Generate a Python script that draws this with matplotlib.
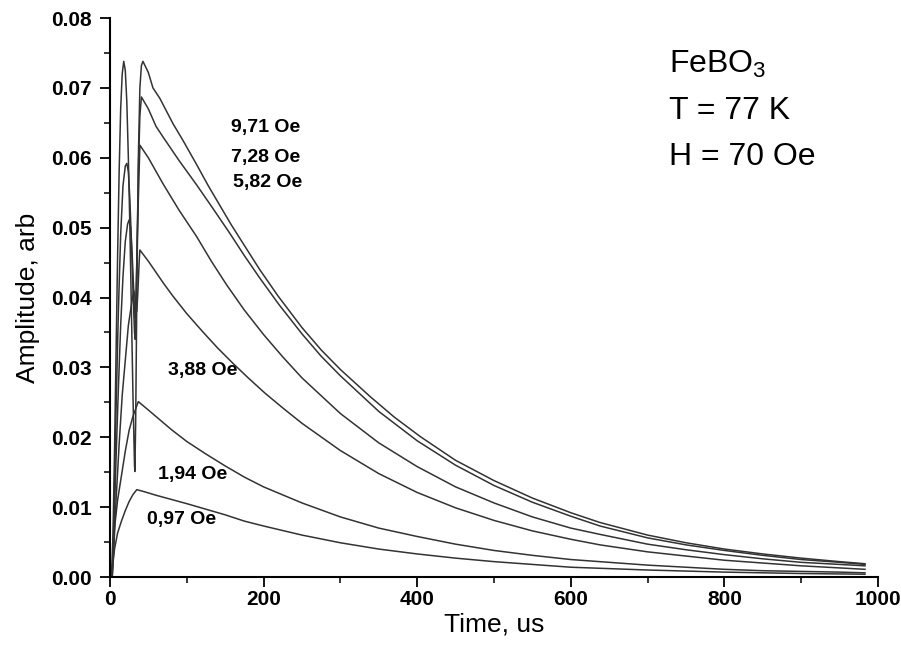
import matplotlib
matplotlib.use("Agg")
import matplotlib.pyplot as plt
from matplotlib.ticker import MultipleLocator, FormatStrFormatter

plt.rcParams['font.family'] = ['Liberation Sans', 'DejaVu Sans']
plt.rcParams['mathtext.fontset'] = 'custom'
plt.rcParams['mathtext.rm'] = 'Liberation Sans'

# time (us) and amplitude (arb), one pair of lists per field
t_971 = [0, 2, 4, 6, 8, 10, 12, 14, 16, 18, 20, 22, 24, 26, 28, 30, 32, 32.5, 33.5, 35, 37,
         39, 41, 43, 50, 56, 65, 82, 95, 113, 128, 143, 158, 173, 195, 219, 250, 275, 300,
         339, 370, 404, 450, 500, 550, 600, 638, 700, 750, 800, 850, 900, 950, 983]
a_971 = [0, 0, 0.006, 0.018, 0.032, 0.046, 0.058, 0.067, 0.072, 0.0738, 0.0725, 0.068, 0.060,
         0.050, 0.038, 0.026, 0.016, 0.0151, 0.022, 0.040, 0.060, 0.070, 0.0732, 0.0738,
         0.0722, 0.0700, 0.0685, 0.0649, 0.0625, 0.0590, 0.0560, 0.0532, 0.0504, 0.0478,
         0.0440, 0.0402, 0.0357, 0.0325, 0.0297, 0.0258, 0.0229, 0.0201, 0.0167, 0.0138,
         0.0113, 0.0092, 0.0078, 0.0060, 0.0049, 0.0040, 0.0033, 0.0027, 0.0022, 0.0019]

t_728 = [0, 3, 5, 8, 11, 14, 17, 20, 22, 24, 26, 28, 30, 32, 33, 35, 37, 39, 41, 50, 60, 69,
         90, 113, 135, 156, 175, 195, 220, 250, 275, 300, 350, 400, 450, 500, 550, 600, 638,
         700, 750, 800, 850, 900, 950, 983]
a_728 = [0, 0, 0.008, 0.024, 0.038, 0.049, 0.056, 0.0588, 0.0592, 0.058, 0.054, 0.048, 0.041,
         0.035, 0.034, 0.045, 0.058, 0.066, 0.0687, 0.0670, 0.0645, 0.0630, 0.0596, 0.0561,
         0.0526, 0.0492, 0.0460, 0.0428, 0.0390, 0.0348, 0.0316, 0.0288, 0.0237, 0.0195,
         0.0160, 0.0131, 0.0107, 0.0087, 0.0073, 0.0056, 0.0046, 0.0038, 0.0031, 0.0025,
         0.0021, 0.0018]

t_582 = [0, 3, 5, 8, 11, 14, 17, 20, 23, 25, 27, 29, 31, 32.5, 34, 36, 38, 39, 50, 69, 90,
         113, 132, 152, 175, 200, 225, 250, 300, 350, 400, 450, 500, 550, 600, 638, 700, 750,
         800, 850, 900, 950, 983]
a_582 = [0, 0, 0.006, 0.017, 0.027, 0.036, 0.043, 0.048, 0.0505, 0.0511, 0.050, 0.046, 0.041,
         0.037, 0.040, 0.050, 0.058, 0.0618, 0.0600, 0.0563, 0.0525, 0.0487, 0.0452, 0.0418,
         0.0382, 0.0347, 0.0315, 0.0285, 0.0234, 0.0192, 0.0158, 0.0129, 0.0106, 0.0086,
         0.0070, 0.0061, 0.0047, 0.0039, 0.0032, 0.0026, 0.0021, 0.0018, 0.0016]

t_388 = [0, 3, 5, 8, 12, 16, 20, 24, 28, 31, 33, 35, 36.5, 38, 39, 50, 60, 70, 82, 100, 120,
         140, 160, 180, 202, 225, 250, 300, 350, 400, 450, 500, 550, 600, 638, 700, 750, 800,
         850, 900, 950, 983]
a_388 = [0, 0, 0.004, 0.011, 0.019, 0.026, 0.031, 0.036, 0.039, 0.041, 0.040, 0.038, 0.041,
         0.045, 0.0468, 0.0452, 0.0436, 0.0420, 0.0402, 0.0377, 0.0352, 0.0328, 0.0306,
         0.0285, 0.0263, 0.0242, 0.0220, 0.0181, 0.0148, 0.0121, 0.0099, 0.0081, 0.0066,
         0.0054, 0.0046, 0.0036, 0.0030, 0.0024, 0.0020, 0.0016, 0.0013, 0.0011]

t_194 = [0, 3, 6, 10, 15, 20, 25, 30, 37, 50, 65, 80, 100, 125, 150, 175, 200, 250, 300,
         350, 400, 450, 500, 550, 600, 650, 700, 750, 800, 850, 900, 950, 983]
a_194 = [0, 0.001, 0.007, 0.011, 0.0145, 0.018, 0.021, 0.023, 0.0251, 0.0239, 0.0225, 0.0211,
         0.0194, 0.0176, 0.0159, 0.0143, 0.0129, 0.0106, 0.0086, 0.0070, 0.0058, 0.0047,
         0.0038, 0.0031, 0.0025, 0.0021, 0.0017, 0.0014, 0.0011, 0.0009, 0.0008, 0.0007,
         0.0006]

t_097 = [0, 3, 6, 10, 15, 20, 25, 30, 35, 45, 60, 80, 100, 125, 150, 175, 200, 250, 300,
         350, 400, 450, 500, 550, 600, 650, 700, 800, 900, 983]
a_097 = [0, 0.001, 0.004, 0.0063, 0.008, 0.0095, 0.0108, 0.0118, 0.0125, 0.0122, 0.0117,
         0.0111, 0.0105, 0.0097, 0.0089, 0.0080, 0.0073, 0.0060, 0.0049, 0.0040, 0.0033,
         0.0027, 0.0022, 0.0018, 0.0014, 0.0012, 0.0010, 0.0007, 0.0005, 0.0004]

curves = [(t_971, a_971), (t_728, a_728), (t_582, a_582),
          (t_388, a_388), (t_194, a_194), (t_097, a_097)]

field_labels = ["9,71 Oe", "7,28 Oe", "5,82 Oe", "3,88 Oe", "1,94 Oe", "0,97 Oe"]
label_t = [158, 158, 160, 75, 62, 48]
label_a = [0.0643, 0.0601, 0.0564, 0.0296, 0.0146, 0.0083]

fig = plt.figure(figsize=(9.01, 6.5), dpi=100)
ax = fig.add_axes([0.122, 0.1123, 0.8525, 0.86])

for t, a in curves:
    ax.plot(t, a, color='#333333', lw=1.1)

for lab, x, y in zip(field_labels, label_t, label_a):
    ax.text(x, y, lab, fontsize=14, fontweight='bold', va='center', ha='left')

ax.text(0.728, 0.9016, r"FeBO$_3$", transform=ax.transAxes, fontsize=23, va='baseline')
ax.text(0.728, 0.819, "T = 77 K", transform=ax.transAxes, fontsize=23, va='baseline')
ax.text(0.728, 0.737, "H = 70 Oe", transform=ax.transAxes, fontsize=23, va='baseline')

ax.set_xlim(0, 1000)
ax.set_ylim(0, 0.08)
ax.xaxis.set_major_locator(MultipleLocator(200))
ax.xaxis.set_minor_locator(MultipleLocator(100))
ax.yaxis.set_major_locator(MultipleLocator(0.01))
ax.yaxis.set_minor_locator(MultipleLocator(0.005))
ax.yaxis.set_major_formatter(FormatStrFormatter('%.2f'))

for s in ['top', 'right']:
    ax.spines[s].set_visible(False)
for s in ['left', 'bottom']:
    ax.spines[s].set_linewidth(1.5)

ax.tick_params(which='major', length=7, width=1.3, direction='out')
ax.tick_params(which='minor', length=4, width=1.1, direction='out')
ax.tick_params(axis='x', which='major', pad=2)
ax.tick_params(axis='y', which='major', pad=6)
for lbl in ax.get_xticklabels() + ax.get_yticklabels():
    lbl.set_fontweight('bold')
    lbl.set_fontsize(15)

ax.set_xlabel("Time, us", fontsize=19, labelpad=3)
ax.set_ylabel("Amplitude, arb", fontsize=19, labelpad=8)

fig.savefig("out.png", dpi=100)
